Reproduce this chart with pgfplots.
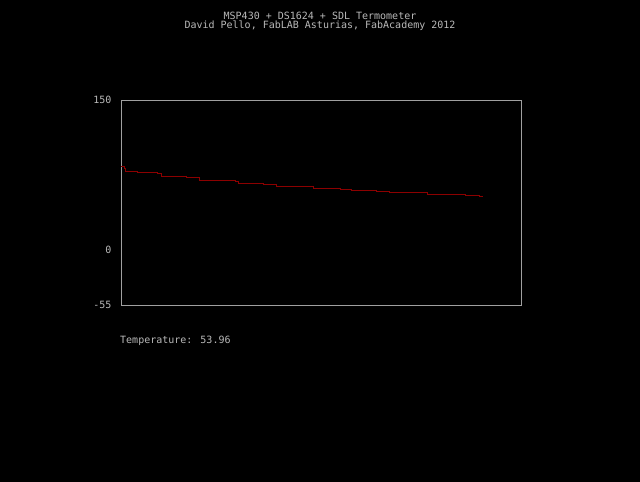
\documentclass[border=0pt]{standalone}
\usepackage{pgfplots}
\pgfplotsset{compat=1.18}
\usepackage{fontspec}
\setmainfont{DejaVu Sans Mono}
\definecolor{txt}{RGB}{185,185,185}
\definecolor{frame}{RGB}{160,160,160}
\definecolor{trace}{RGB}{140,0,0}
\begin{document}
\begin{tikzpicture}[x=1bp,y=1bp]
\fill[black] (0,0) rectangle (640,482);
\node[txt,font=\fontsize{10bp}{10bp}\selectfont] at (320,466) {MSP430 + DS1624 + SDL Termometer};
\node[txt,font=\fontsize{10bp}{10bp}\selectfont] at (320,456) {David Pello, FabLAB Asturias, FabAcademy 2012};
\node[txt,font=\fontsize{10bp}{10bp}\selectfont,anchor=west,inner sep=0pt] at (120,141) {Temperature: 53.96};
\begin{axis}[
    at={(121bp,177bp)}, anchor=south west,
    scale only axis, width=400bp, height=205bp,
    xmin=0, xmax=400, ymin=-55, ymax=150,
    axis line style={frame, line width=0.8pt},
    xtick=\empty,
    ytick={-55,0,150},
    major tick length=0pt,
    yticklabel style={txt, font=\fontsize{10bp}{10bp}\selectfont, xshift=-6bp},
    /pgf/number format/assume math mode=true,
    clip=false,
]
\addplot[const plot, trace, line width=1bp] coordinates {
    (0,83) (3,81) (4,78) (16,77) (36,76) (40,73) (65,72) (78,69.5) (79,69)
    (114,68) (117,66) (142,65) (155,63) (192,61) (219,60) (230,59)
    (255,58) (268,57) (306,55) (344,54) (358,53) (362,53)
};
\end{axis}
\end{tikzpicture}
\end{document}
